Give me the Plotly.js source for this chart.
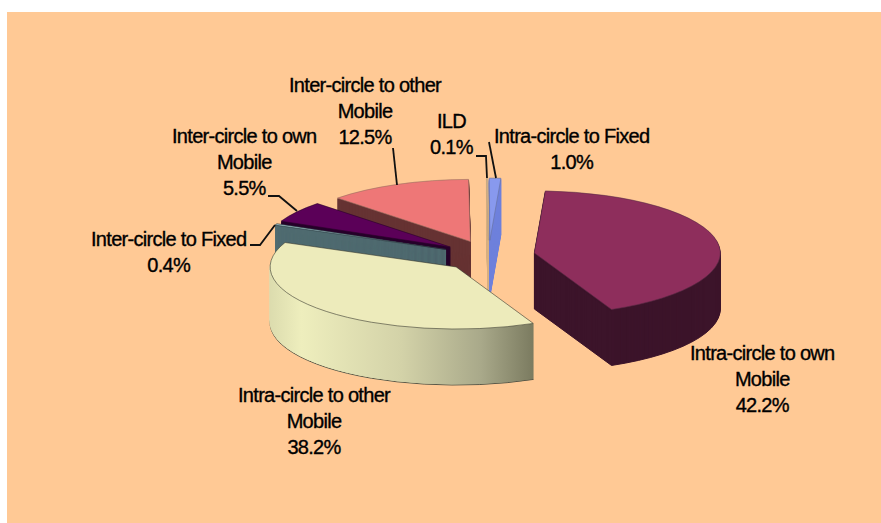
<!DOCTYPE html>
<html><head><meta charset="utf-8">
<script src="https://cdn.plot.ly/plotly-3.0.1.min.js"></script>
<style>
html,body{margin:0;padding:0;background:#fff}
.annotation-text{letter-spacing:-0.7px;stroke:#000;stroke-width:0.35px}
</style></head>
<body>
<div id="chart" style="width:881px;height:523px"></div>
<svg width="0" height="0" style="position:absolute"><defs>
<linearGradient id="creamSide" x1="0" y1="0" x2="1" y2="0">
<stop offset="0" stop-color="#dcdcae"/><stop offset="0.12" stop-color="#eeeebd"/>
<stop offset="0.5" stop-color="#d3d2a8"/><stop offset="0.8" stop-color="#a9a98a"/><stop offset="1" stop-color="#7b7b60"/>
</linearGradient></defs></svg>
<script>
const categories = ["Intra-circle to own Mobile","Intra-circle to other Mobile","Inter-circle to Fixed","Inter-circle to own Mobile","Inter-circle to other Mobile","ILD","Intra-circle to Fixed"];
const shares = [42.2,38.2,0.4,5.5,12.5,0.1,1.0];
const topColors = ["#8E2E5C","#EDEBBB","#9DBFC4","#5B0058","#EE7777","#F8CB98","#8899EE"];
const wallColors = ["#3C142A","#DDDCB0","#4F6B70","#26002A","#663333","#D8B080","#6F80DC"];
const topEdges = ["#5a2a44","#3a3a30","#2a3a40","#2a002a","#9a7060","#b09a80","#66709a"];
const labelLines = [
 ["Intra-circle to own<br>Mobile<br>42.2%",762,379],
 ["Intra-circle to other<br>Mobile<br>38.2%",314,421],
 ["Inter-circle to Fixed<br>0.4%",168,252],
 ["Inter-circle to own<br>Mobile<br>5.5%",244,162],
 ["Inter-circle to other<br>Mobile<br>12.5%",365,111],
 ["ILD<br>0.1%",452,134],
 ["Intra-circle to Fixed<br>1.0%",571,149]
];
const leaders = [
 [[393,148],[397,185]],
 [[476,156],[486,156],[487,178]],
 [[489,142],[496,178]],
 [[268,196],[279,196],[297,211]],
 [[250,245],[260,245],[275,225]]
];
const W=881,H=523;
const px=x=>x/W, py=y=>1-y/H;
const cx=488.6, radiusDomain=232.5, squash=0.334, depth=56, cyTop=255.8, cyPie=H/2, pull=0.25;
const traces=[];
for(let k=depth;k>=0;k--){
  traces.push({type:'pie',values:shares,labels:categories,sort:false,direction:'clockwise',rotation:3.4,
    pull:shares.map(()=>pull),textinfo:'none',hoverinfo:'skip',showlegend:false,
    domain:{x:[px(cx-radiusDomain),px(cx+radiusDomain)],y:[py(cyPie+radiusDomain),py(cyPie-radiusDomain)]},
    marker:{colors:k===0?topColors:wallColors,
      line:{width:k===0?0.6:1,color:k===0?topEdges:wallColors}}});
}
const layout={width:W,height:H,margin:{l:0,r:0,t:0,b:0},paper_bgcolor:'#fff',plot_bgcolor:'rgba(0,0,0,0)',showlegend:false,
  shapes:[{type:'rect',layer:'below',xref:'paper',yref:'paper',x0:px(7),x1:1,y0:0,y1:py(12),fillcolor:'#FFC995',line:{width:0}}]
    .concat(leaders.map(p=>({type:'path',xref:'paper',yref:'paper',layer:'above',
      path:p.map((q,i)=>(i?'L':'M')+px(q[0])+' '+py(q[1])).join(' '),line:{color:'#111',width:1.8}}))),
  annotations:labelLines.map(l=>({text:l[0],x:px(l[1]),y:py(l[2]),xref:'paper',yref:'paper',xanchor:'center',yanchor:'middle',align:'center',showarrow:false,
    font:{family:'"Liberation Sans",Arial,sans-serif',size:20,color:'#000'}}))
};
Plotly.newPlot('chart',traces,layout,{staticPlot:true,displayModeBar:false}).then(()=>{
  const groups=document.querySelectorAll('.pielayer > g.trace');
  groups.forEach((g,i)=>{
    const k=depth-i;
    g.setAttribute('transform','matrix(1 0 0 '+squash+' 0 '+(cyTop+k-squash*cyPie)+')');
    g.querySelectorAll('path.surface').forEach((p,j)=>{
      p.style.vectorEffect='non-scaling-stroke';
      if(k>0&&j===1){p.style.fill='url(#creamSide)';p.style.stroke='url(#creamSide)';}
      if(k===depth&&j===1)p.style.stroke='#5a5848';
    });
  });
});
</script></body></html>
